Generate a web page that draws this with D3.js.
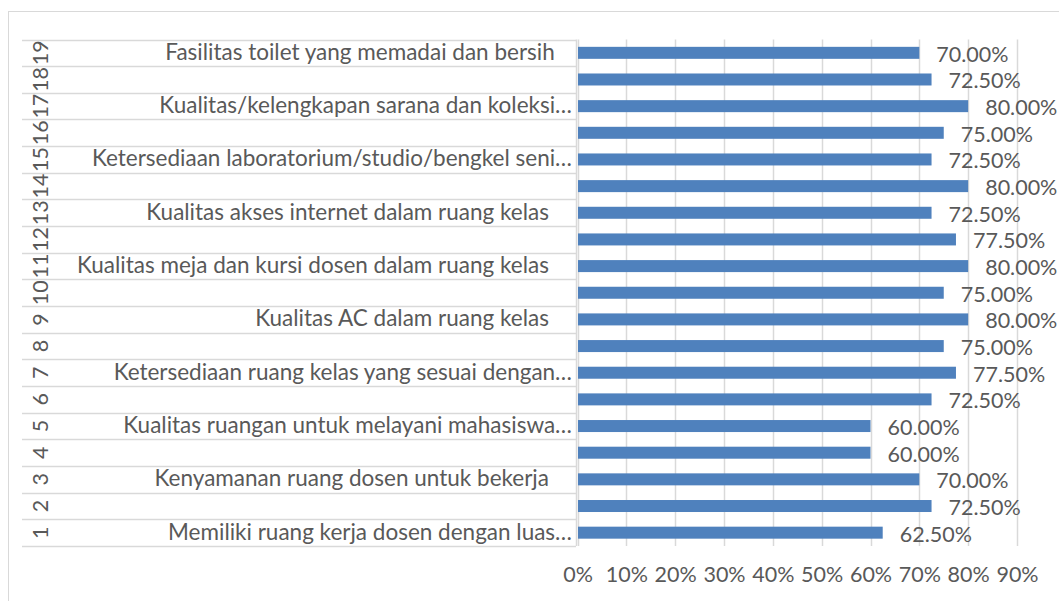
<!DOCTYPE html>
<html>

<head>
  <meta charset='utf-8'>
  <style>
    body { margin: 0; background: #fff; }
    text { font-family: Lato, 'Noto Sans', sans-serif; fill: #595959; }
  </style>
  <script src='https://cdn.jsdelivr.net/npm/d3@7/dist/d3.min.js'></script>
</head>

<body>

  <script type='module'>

    let [width, height] = [1059, 601]

    // categories, bottom (1) to top (19)
    let ids = d3.range(1, 20).map(String)
    let labels = [
      'Memiliki ruang kerja dosen dengan luas…', '',
      'Kenyamanan ruang dosen untuk bekerja    ', '',
      'Kualitas ruangan untuk melayani mahasiswa…', '',
      'Ketersediaan ruang kelas yang sesuai dengan…', '',
      'Kualitas AC dalam ruang kelas    ', '',
      'Kualitas meja dan kursi dosen dalam ruang kelas    ', '',
      'Kualitas akses internet dalam ruang kelas    ', '',
      'Ketersediaan laboratorium/studio/bengkel seni…', '',
      'Kualitas/kelengkapan sarana dan koleksi…', '',
      'Fasilitas toilet yang memadai dan bersih   '
    ]
    let values = [0.625, 0.725, 0.70, 0.60, 0.60, 0.725, 0.775, 0.75, 0.80, 0.75,
      0.80, 0.775, 0.725, 0.80, 0.725, 0.75, 0.80, 0.725, 0.70]
    let ticks = d3.range(0, 10).map(d => d / 10)

    let rows = ids.map((id, i) => ({ id, label: labels[i], value: values[i] }))

    let svg = d3.select('body')
      .append('svg')
      .attr('width', width)
      .attr('height', height)

    // chart frame
    svg.append('rect')
      .attr('x', 8.5).attr('y', 11.5)
      .attr('width', 1060).attr('height', 620)
      .attr('fill', 'none')
      .attr('stroke', '#d9d9d9')

    let x = d3.scaleLinear([0, 0.9], [577.5, 1017])
    let y = d3.scaleBand(ids.slice().reverse(), [39.5, 546]).paddingInner(0.55).paddingOuter(0.275)
    let rowY = d3.scaleBand(ids.slice().reverse(), [39.5, 546])

    // gridlines
    svg.append('g')
      .selectAll('line')
      .data(ticks)
      .join('line')
      .attr('x1', d => Math.round(x(d)) + 0.5)
      .attr('x2', d => Math.round(x(d)) + 0.5)
      .attr('y1', 39.5).attr('y2', 546)
      .attr('stroke', '#d9d9d9')
      .attr('stroke-width', 1.5)

    // category table lines
    let bounds = ids.map(d => rowY(d)).concat([546])
    svg.append('g')
      .selectAll('line')
      .data(bounds)
      .join('line')
      .attr('x1', 22).attr('x2', 576)
      .attr('y1', d => Math.round(d) + 0.5)
      .attr('y2', d => Math.round(d) + 0.5)
      .attr('stroke', '#d9d9d9')
      .attr('stroke-width', 1.5)
    svg.append('line')
      .attr('x1', 576.5).attr('x2', 576.5)
      .attr('y1', 39.5).attr('y2', 546)
      .attr('stroke', '#d9d9d9')
      .attr('stroke-width', 1.5)

    // bars
    svg.append('g')
      .selectAll('rect')
      .data(rows)
      .join('rect')
      .attr('x', x(0) + 0.5)
      .attr('y', d => y(d.id))
      .attr('width', d => x(d.value) - x(0) - 0.5)
      .attr('height', y.bandwidth())
      .attr('fill', '#4f81bd')

    // value labels
    svg.append('g')
      .selectAll('text')
      .data(rows)
      .join('text')
      .attr('x', d => x(d.value) + 17)
      .attr('y', d => rowY(d.id) + rowY.bandwidth() / 2 + 9)
      .attr('font-size', 21.5)
      .text(d => d3.format('.2%')(d.value))

    // category labels
    svg.append('g')
      .selectAll('text')
      .data(rows)
      .join('text')
      .attr('x', 572)
      .attr('y', d => rowY(d.id) + rowY.bandwidth() / 2 + 7)
      .attr('text-anchor', 'end')
      .attr('font-size', 22.5)
      .style('white-space', 'pre')
      .text(d => d.label)

    // rotated row numbers
    svg.append('g')
      .selectAll('text')
      .data(rows)
      .join('text')
      .attr('transform', d => `translate(48,${rowY(d.id) + rowY.bandwidth() / 2}) rotate(-90)`)
      .attr('text-anchor', 'middle')
      .attr('font-size', 21.5)
      .text(d => d.id)

    // x axis
    let xAxis = d3.axisBottom(x)
      .tickValues(ticks)
      .tickFormat(d3.format('.0%'))
      .tickSize(0)
      .tickPadding(0)
    svg.append('g')
      .attr('transform', 'translate(0,567)')
      .call(xAxis)
      .call(g => g.select('.domain').remove())
      .call(g => g.selectAll('text')
        .attr('font-size', 21.5)
        .attr('fill', '#595959')
        .attr('font-family', 'Lato, sans-serif'))
  </script>
</body>

</html>
